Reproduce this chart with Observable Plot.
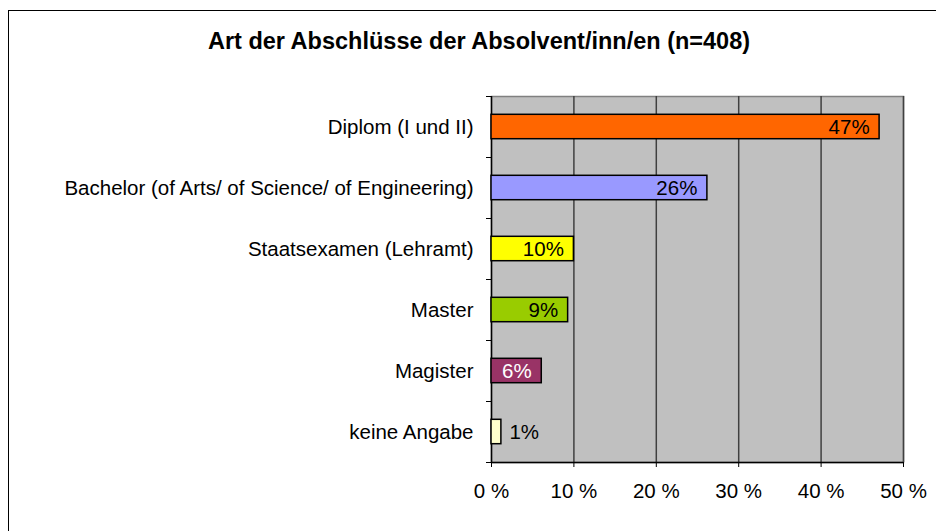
<!DOCTYPE html>
<html>
<head>
<meta charset="utf-8">
<script src="https://cdn.jsdelivr.net/npm/d3@7"></script>
<script src="https://cdn.jsdelivr.net/npm/@observablehq/plot@0.6"></script>
<style>
  html, body { margin: 0; padding: 0; background: #fff; }
  #wrap { position: relative; width: 936px; height: 531px; overflow: hidden; font-family: "Liberation Sans", Arial, sans-serif; }
  #border { position: absolute; left: 8px; top: 10px; width: 940px; height: 540px; border-left: 1.5px solid #000; border-top: 1.5px solid #000; box-sizing: border-box; }
  #title { position: absolute; left: 0; width: 958px; top: 27px; text-align: center; font-weight: bold; font-size: 23.5px; line-height: 28px; color: #000; white-space: nowrap; }
  #chart { position: absolute; left: 0; top: 0; }
</style>
</head>
<body>
<div id="wrap">
  <div id="border"></div>
  <div id="title">Art der Abschlüsse der Absolvent/inn/en (n=408)</div>
  <div id="chart"></div>
</div>
<script>
const categories = [
  "Diplom (I und II)",
  "Bachelor (of Arts/ of Science/ of Engineering)",
  "Staatsexamen (Lehramt)",
  "Master",
  "Magister",
  "keine Angabe"
];
const values = [47.1, 26.2, 10.0, 9.3, 6.1, 1.2];
const labels = ["47%", "26%", "10%", "9%", "6%", "1%"];
const colors = ["#FF6600", "#9999FF", "#FFFF00", "#99CC00", "#993366", "#FFFFCC"];
const xTicks = [0, 10, 20, 30, 40, 50];

const rows = categories.map((c, i) => ({
  i, category: c, value: values[i], label: labels[i], color: colors[i],
  textColor: d3.lab(colors[i]).l < 50 ? "#fff" : "#000"
}));

const centers = categories.map((_, i) => i + 0.5);
const bounds = d3.range(categories.length + 1);

const chart = Plot.plot({
  width: 936,
  height: 531,
  marginLeft: 491,
  marginRight: 33,
  marginTop: 96,
  marginBottom: 69,
  style: { background: "transparent", fontFamily: "'Liberation Sans', Arial, sans-serif", fontSize: "20.5px", color: "#000" },
  x: { domain: [0, 50], label: null },
  y: { domain: [0, categories.length], reverse: true, label: null },
  marks: [
    Plot.frame({ fill: "#c0c0c0", stroke: "#808080", strokeWidth: 1.5 }),
    Plot.ruleX(xTicks.filter(d => d > 0), { stroke: "#404040", strokeWidth: 1.5 }),
    Plot.ruleX([0], { stroke: "#000", strokeWidth: 1.5 }),
    Plot.ruleY([categories.length], { stroke: "#000", strokeWidth: 1.5 }),
    Plot.axisX({ ticks: xTicks, tickFormat: d => d + " %", tickSize: 5, tickPadding: 16, fontSize: 20.5, stroke: "#000", label: null }),
    Plot.axisY({ ticks: centers, tickFormat: d => categories[Math.floor(d)], tickSize: 0, tickPadding: 18, fontSize: 20.5, label: null }),
    Plot.axisY({ ticks: bounds, tickFormat: () => "", tickSize: 5, stroke: "#000", label: null }),
    Plot.rectX(rows, { x1: 0, x2: "value", y1: d => d.i + 0.3, y2: d => d.i + 0.7, fill: "color", stroke: "#000", strokeWidth: 1.5 }),
    Plot.text(rows.filter(d => d.value >= 3), { x: "value", y: d => d.i + 0.5, text: "label", textAnchor: "end", dx: -10, fill: "textColor", fontSize: 20.5 }),
    Plot.text(rows.filter(d => d.value < 3), { x: "value", y: d => d.i + 0.5, text: "label", textAnchor: "start", dx: 8, fill: "textColor", fontSize: 20.5 })
  ]
});
document.getElementById("chart").appendChild(chart);
</script>
</body>
</html>
